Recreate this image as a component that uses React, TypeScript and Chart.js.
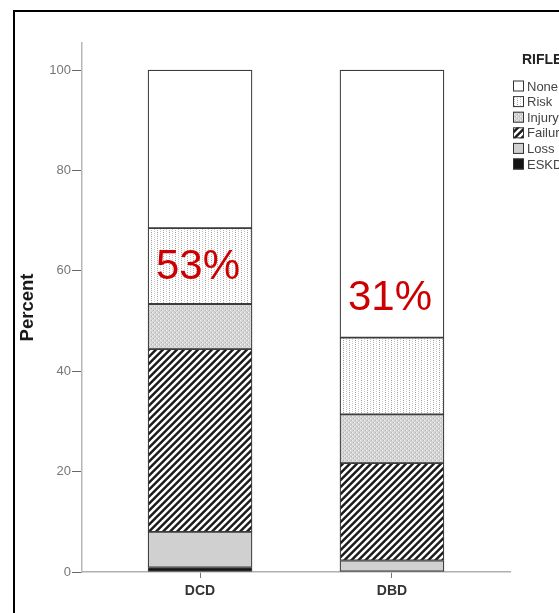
import { useEffect, useRef } from 'react';
import { Chart, registerables } from 'chart.js';

Chart.register(...registerables);

// Donor groups along the x axis
const groups = ['DCD', 'DBD'];
// RIFLE classes in legend order (top of the stack first)
const rifleClasses = ['None', 'Risk', 'Injury', 'Failure', 'Loss', 'ESKD'];
// Percent of patients in each RIFLE class, per donor group
const none = [31.5, 53.3];
const risk = [15.1, 15.3];
const injury = [9.0, 9.7];
const failure = [36.4, 19.4];
const loss = [7.1, 2.3];
const eskd = [0.9, 0.0];
// Y axis tick values
const yTicks = [0, 20, 40, 60, 80, 100];

const FONT = '"Liberation Sans", Arial, sans-serif';

function makeTile(w: number, h: number, paint: (ctx: CanvasRenderingContext2D) => void) {
  const c = document.createElement('canvas');
  c.width = w;
  c.height = h;
  const ctx = c.getContext('2d')!;
  paint(ctx);
  return ctx.createPattern(c, 'repeat') as CanvasPattern;
}

function buildFills() {
  // dotted vertical rules on white
  const riskFill = makeTile(6, 4, (ctx) => {
    ctx.fillStyle = '#ffffff';
    ctx.fillRect(0, 0, 6, 4);
    ctx.fillStyle = '#9a9a9a';
    ctx.fillRect(1, 0, 1, 1);
    ctx.fillStyle = '#b4b4b4';
    ctx.fillRect(1, 2, 1, 1);
    ctx.fillStyle = '#c8c8c8';
    ctx.fillRect(4, 1, 1, 1);
    ctx.fillRect(4, 3, 1, 1);
  });
  // fine light-grey stipple
  const injuryFill = makeTile(4, 4, (ctx) => {
    ctx.fillStyle = '#d4d4d4';
    ctx.fillRect(0, 0, 4, 4);
    ctx.fillStyle = '#f2f2f2';
    ctx.fillRect(0, 0, 1, 1);
    ctx.fillRect(2, 2, 1, 1);
    ctx.fillStyle = '#b4b4b4';
    ctx.fillRect(1, 2, 1, 1);
    ctx.fillRect(3, 0, 1, 1);
  });
  // diagonal "/" hatching, anti-aliased by supersampling
  const period = 7;
  const failureFill = makeTile(period, period, (ctx) => {
    const img = ctx.createImageData(period, period);
    const ss = 4;
    for (let y = 0; y < period; y++) {
      for (let x = 0; x < period; x++) {
        let cover = 0;
        for (let sy = 0; sy < ss; sy++) {
          for (let sx = 0; sx < ss; sx++) {
            const t = (x + (sx + 0.5) / ss + y + (sy + 0.5) / ss) % period;
            if (t < 3.5) cover++;
          }
        }
        const a = cover / (ss * ss);
        const v = Math.round(255 * (1 - a) + 28 * a);
        const i = (y * period + x) * 4;
        img.data[i] = v;
        img.data[i + 1] = v;
        img.data[i + 2] = v;
        img.data[i + 3] = 255;
      }
    }
    ctx.putImageData(img, 0, 0);
  });
  return {
    None: '#ffffff',
    Risk: riskFill,
    Injury: injuryFill,
    Failure: failureFill,
    Loss: '#d0d0d0',
    ESKD: '#141414',
  } as Record<string, string | CanvasPattern>;
}

const rifleLegend = {
  id: 'rifleLegend',
  afterDraw(chart: any) {
    const { ctx } = chart;
    ctx.save();
    ctx.fillStyle = '#222';
    ctx.font = `bold 14px ${FONT}`;
    ctx.textBaseline = 'alphabetic';
    ctx.textAlign = 'left';
    ctx.fillText('RIFLE', 522, 64);
    rifleClasses.forEach((name, i) => {
      const ds = chart.data.datasets.find((d: any) => d.label === name);
      const cy = 86 + i * 15.6;
      ctx.fillStyle = ds.backgroundColor;
      ctx.fillRect(513, cy - 5.5, 11, 11);
      ctx.strokeStyle = '#333';
      ctx.lineWidth = 1;
      ctx.strokeRect(513.5, cy - 5, 10, 10);
      ctx.fillStyle = '#444';
      ctx.font = `13px ${FONT}`;
      ctx.textBaseline = 'middle';
      ctx.fillText(name, 527, cy + 1);
    });
    ctx.restore();
  },
};

// share of patients with Injury or worse, printed on each bar
const shareLabels = {
  id: 'shareLabels',
  afterDraw(chart: any) {
    const { ctx } = chart;
    const xs = chart.scales.x;
    const ys = chart.scales.y;
    const baselines = [58.4, 52.2];
    ctx.save();
    ctx.fillStyle = '#cc0000';
    ctx.font = `42px ${FONT}`;
    ctx.textAlign = 'center';
    ctx.textBaseline = 'alphabetic';
    groups.forEach((_, i) => {
      const share = injury[i] + failure[i] + loss[i] + eskd[i];
      ctx.fillText(`${Math.round(share)}%`, xs.getPixelForValue(i) - 2, ys.getPixelForValue(baselines[i]));
    });
    ctx.restore();
  },
};

export default function App() {
  const ref = useRef<HTMLCanvasElement>(null);

  useEffect(() => {
    const fills = buildFills();
    const series: Record<string, number[]> = {
      ESKD: eskd,
      Loss: loss,
      Failure: failure,
      Injury: injury,
      Risk: risk,
      None: none,
    };
    // bottom of the stack first
    const stackOrder = ['ESKD', 'Loss', 'Failure', 'Injury', 'Risk', 'None'];
    const chart = new Chart(ref.current!, {
      type: 'bar',
      data: {
        datasets: stackOrder.map((name) => ({
          label: name,
          data: series[name].map((v, i) => ({ x: i, y: v })),
          backgroundColor: fills[name] as any,
          borderColor: '#3c3c3c',
          borderWidth: 1.25,
          borderSkipped: false,
          barThickness: 104,
          grouped: false,
        })),
      },
      options: {
        responsive: false,
        animation: false,
        events: [],
        layout: { padding: { top: 43, right: 49, left: 0, bottom: 0 } },
        plugins: { legend: { display: false }, tooltip: { enabled: false } },
        scales: {
          x: {
            type: 'linear',
            offset: false,
            stacked: true,
            min: -0.615,
            max: 1.615,
            afterBuildTicks: (scale: any) => {
              scale.ticks = groups.map((_, i) => ({ value: i }));
            },
            afterFit: (scale: any) => {
              scale.height = 41;
            },
            ticks: {
              callback: (v: any) => groups[Number(v)] ?? '',
              color: '#333',
              font: { family: FONT, size: 14, weight: 'bold' },
              padding: 5,
              maxRotation: 0,
            },
            grid: { offset: false, drawOnChartArea: false, drawTicks: true, tickLength: 6, color: '#777' },
            border: { display: true, color: '#b0b0b0', width: 1.5 },
          },
          y: {
            type: 'linear',
            stacked: true,
            min: 0,
            max: 105.4,
            afterBuildTicks: (scale: any) => {
              scale.ticks = yTicks.map((v) => ({ value: v }));
            },
            afterFit: (scale: any) => {
              scale.width = 82;
            },
            ticks: {
              color: '#777',
              font: { family: FONT, size: 13 },
              padding: 1,
            },
            grid: { drawOnChartArea: false, drawTicks: true, tickLength: 10, color: '#666' },
            border: { display: true, color: '#b8b8b8', width: 1.5 },
            title: {
              display: true,
              text: 'Percent',
              color: '#1a1a1a',
              font: { family: FONT, size: 18.5, weight: 'bold' },
              padding: { top: 17, bottom: 0 },
            },
          },
        },
      },
      plugins: [rifleLegend, shareLabels],
    } as any);
    return () => chart.destroy();
  }, []);

  return (
    <div
      style={{
        position: 'fixed',
        left: 0,
        top: 0,
        width: 559,
        height: 613,
        overflow: 'hidden',
        background: '#fff',
      }}
    >
      <div
        style={{
          position: 'absolute',
          left: 13,
          top: 10,
          width: 700,
          height: 700,
          borderLeft: '2px solid #000',
          borderTop: '2px solid #000',
        }}
      />
      <canvas
        ref={ref}
        width={559}
        height={613}
        style={{ position: 'absolute', left: 0, top: 0, display: 'block' }}
      />
    </div>
  );
}
